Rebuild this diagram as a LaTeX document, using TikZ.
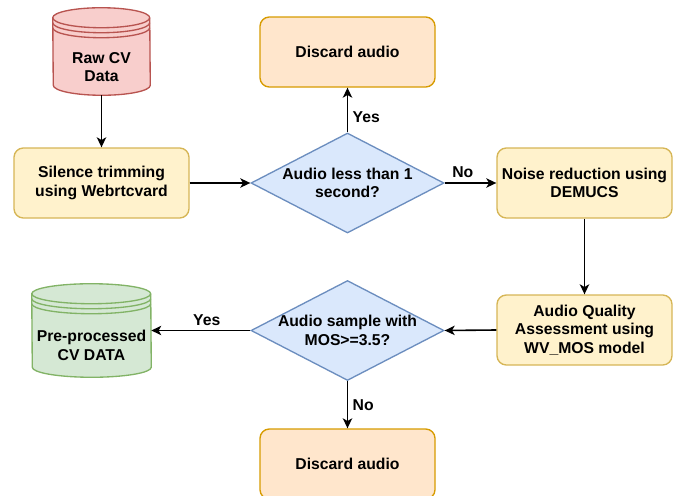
\documentclass[tikz,border=0pt]{standalone}
\usepackage{fontspec}
\setmainfont{Liberation Sans}
\usetikzlibrary{shapes.geometric,arrows.meta}

\definecolor{redfill}{HTML}{F8CECC}
\definecolor{redline}{HTML}{B85450}
\definecolor{yellowfill}{HTML}{FFF2CC}
\definecolor{yellowline}{HTML}{D6B656}
\definecolor{orangefill}{HTML}{FFE6CC}
\definecolor{orangeline}{HTML}{D79B00}
\definecolor{bluefill}{HTML}{DAE8FC}
\definecolor{blueline}{HTML}{6C8EBF}
\definecolor{greenfill}{HTML}{D5E8D4}
\definecolor{greenline}{HTML}{82B366}

\tikzset{
  txt/.style={font=\fontsize{11.8}{14}\selectfont\bfseries, align=center},
  process/.style={draw=yellowline, fill=yellowfill, rectangle, rounded corners=7pt,
    line width=1pt, minimum width=131.25pt, minimum height=52.5pt, txt},
  discard/.style={process, draw=orangeline, fill=orangefill},
  decision/.style={draw=blueline, fill=bluefill, diamond, line width=1pt,
    minimum width=144.75pt, minimum height=75pt, inner sep=0pt},
  store/.style={rectangle, inner sep=0pt},
  flow/.style={-{Stealth[length=7.5pt,width=7pt,inset=2pt]}, line width=1.2pt},
}

% datastore drum: node, half width, colours
\newcommand{\datastore}[3]{%
  \path[#3, line width=1pt] ([yshift=-7.5pt]#1.north west)
    arc[start angle=180, end angle=0, x radius=#2, y radius=7.5pt]
    -- ([yshift=7.5pt]#1.south east)
    arc[start angle=0, end angle=-180, x radius=#2, y radius=7.5pt] -- cycle;
  \foreach \k in {7.5,11.25,15}
    \draw[#3, fill=none, line width=1pt] ([yshift=-\k pt]#1.north west)
      arc[start angle=180, end angle=360, x radius=#2, y radius=7.5pt];
}

\begin{document}
\begin{tikzpicture}[x=0.75pt, y=0.75pt]
  \useasboundingbox (0,0) rectangle (679,-496);

  \node (Raw) [store, minimum width=72.75pt, minimum height=65.25pt] at (101.5,-51.5) {};
  \datastore{Raw}{36.375pt}{draw=redline, fill=redfill}
  \node (RawText) [txt] at (101.5,-67) {Raw CV\\Data};

  \node (Silence) [process] at (101.5,-183) {Silence trimming\\using Webrtcvard};
  \node (Check1) [decision] at (347.5,-183) {};
  \node (Check1Text) [txt] at (347.5,-183) {Audio less than 1\\second?};
  \node (DiscardTop) [discard] at (347.5,-52) {Discard audio};
  \node (Noise) [process] at (584.5,-183) {Noise reduction using\\DEMUCS};
  \node (Quality) [process] at (584.5,-330) {Audio Quality\\Assessment using\\WV\_MOS model};
  \node (Check2) [decision] at (347.5,-330.5) {};
  \node (Check2Text) [txt] at (347.5,-330.5) {Audio sample with\\MOS>=3.5?};
  \node (DiscardBottom) [discard] at (347.5,-464) {Discard audio};

  \node (Clean) [store, minimum width=89.25pt, minimum height=69.75pt] at (91.5,-330.5) {};
  \datastore{Clean}{44.625pt}{draw=greenline, fill=greenfill}
  \node (CleanText) [txt] at (91.5,-345.5) {Pre-processed\\CV DATA};

  \draw [flow] (Raw.south) -- (Silence.north);
  \draw [flow] (Silence.east) -- (Check1.west);
  \draw [flow] (Check1.north) -- node[right, pos=0.35, txt] {Yes} (DiscardTop.south);
  \draw [flow] (Check1.east) -- node[above, pos=0.35, txt] {No} (Noise.west);
  \draw [flow] (Noise.south) -- (Quality.north);
  \draw [flow] (Quality.west) -- (Check2.east);
  \draw [flow] (Check2.west) -- node[above, pos=0.44, txt] {Yes} (Clean.east);
  \draw [flow] (Check2.south) -- node[right, pos=0.5, txt] {No} (DiscardBottom.north);
\end{tikzpicture}
\end{document}
